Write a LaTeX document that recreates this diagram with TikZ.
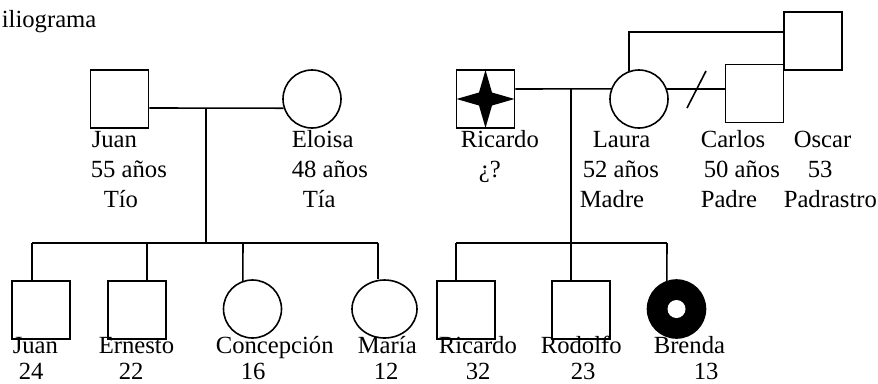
\documentclass[tikz,border=0pt]{standalone}
\usepackage{fontspec}
\setmainfont{Liberation Serif}
\usetikzlibrary{shapes.geometric}
\begin{document}
\begin{tikzpicture}[x=0.75pt,y=-0.75pt,
  line width=1.2pt,
  male/.style={draw,rectangle,minimum size=43.5pt,inner sep=0pt},
  female/.style={draw,ellipse,minimum width=43.5pt,minimum height=43.5pt,inner sep=0pt},
  lbl/.style={anchor=base west,inner sep=0pt,font=\fontsize{18.5}{22}\selectfont}]
\useasboundingbox (0,0) rectangle (878,383);

% parents generation
\node[male] (juanP) at (119.5,99) {};
\node[female] (eloisa) at (312,99) {};
\node[male,path picture={\fill[black,shift={(path picture bounding box.center)}]
   (0,-29) -- (6.5,-6.5) -- (29,0) -- (6.5,6.5) -- (0,29) -- (-6.5,6.5) -- (-29,0) -- (-6.5,-6.5) -- cycle;}]
   (ricP) at (485.5,99) {};
\node[female] (laura) at (639,99) {};
\node[male] (carlos) at (754.5,93.5) {};
\node[male] (oscar) at (813,41) {};

% children
\node[male] (juanC) at (41,310) {};
\node[male] (ernesto) at (137,310) {};
\node[female] (concep) at (252.5,309) {};
\node[female,minimum width=48.75pt] (maria) at (384.5,309) {};
\node[male] (ricC) at (466,310) {};
\node[male] (rodolfo) at (581,310) {};
\node[female,fill=black,path picture={\fill[white] (path picture bounding box.center) circle[radius=6.75pt];}] (brenda) at (676.5,309) {};

% left family connectors
\coordinate (mj) at (206,108);
\coordinate (sj) at (206,243);
\draw (juanP.east |- mj) -- (eloisa.198);
\draw (mj) -- (sj);
\coordinate (d1) at (32,243);
\coordinate (d2) at (147,243);
\coordinate (d3) at (243,243);
\coordinate (d4) at (378,243);
\draw (d1) -- (d4);
\draw (d1) -- (d1 |- juanC.north);
\draw (d2) -- (d2 |- ernesto.north);
\draw (d3) -- (concep.109);
\draw (d4) -- (d4 |- maria.north);

% right family connectors
\coordinate (mr) at (571,89);
\draw (ricP.east |- mr) -- (laura.160);
\coordinate (e1) at (456,243);
\coordinate (e2) at (571,243);
\coordinate (e3) at (667,243);
\draw (mr) -- (e2);
\draw (e1) -- (e3);
\draw (e1) -- (e1 |- ricC.north);
\draw (e2) -- (e2 |- rodolfo.north);
\draw (e3) -- (brenda.109);
\draw (laura.20) -- (laura.20 -| carlos.west);
\coordinate (s1) at (687,108);
\coordinate (s2) at (706,71);
\draw (s1) -- (s2);
\coordinate (lt) at (629,32);
\draw (laura.110) |- (oscar.west |- lt);

% labels
\node[lbl] (title) at (1,27) {iliograma};
\node[lbl] (t1) at (91,147) {Juan};
\node[lbl] (t2) at (90,177) {55 años};
\node[lbl] (t3) at (103,207) {Tío};
\node[lbl] (t4) at (291,147) {Eloisa};
\node[lbl] (t5) at (291,177) {48 años};
\node[lbl] (t6) at (302,207) {Tía};
\node[lbl] (t7) at (460,147) {Ricardo};
\node[lbl] (t8) at (478,177) {¿?};
\node[lbl] (t9) at (592,147) {Laura};
\node[lbl] (t10) at (582,177) {52 años};
\node[lbl] (t11) at (579,207) {Madre};
\node[lbl] (t12) at (700,147) {Carlos};
\node[lbl] (t13) at (703,177) {50 años};
\node[lbl] (t14) at (700,207) {Padre};
\node[lbl] (t15) at (793,147) {Oscar};
\node[lbl] (t16) at (807,177) {53};
\node[lbl] (t17) at (783,207) {Padrastro};

\node[lbl] (b1) at (12,353) {Juan};
\node[lbl] (b2) at (18,379) {24};
\node[lbl] (b3) at (98,353) {Ernesto};
\node[lbl] (b4) at (118,379) {22};
\node[lbl] (b5) at (215,353) {Concepción};
\node[lbl] (b6) at (240,379) {16};
\node[lbl] (b7) at (357,353) {María};
\node[lbl] (b8) at (373,379) {12};
\node[lbl] (b9) at (438,353) {Ricardo};
\node[lbl] (b10) at (465,379) {32};
\node[lbl] (b11) at (540,353) {Rodolfo};
\node[lbl] (b12) at (570,379) {23};
\node[lbl] (b13) at (653,353) {Brenda};
\node[lbl] (b14) at (693,379) {13};
\end{tikzpicture}
\end{document}
